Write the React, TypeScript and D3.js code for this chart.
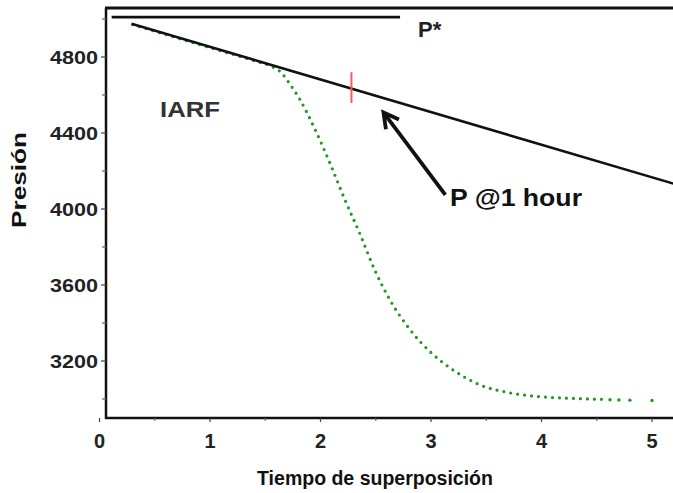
import React from "react";
import * as d3 from "d3";

const W = 673;
const H = 493;

// Axis ticks
const yMajor = [3200, 3600, 4000, 4400, 4800];
const yMinor = [3000, 3400, 3800, 4200, 4600, 5000];
const xMajor = [0, 1, 2, 3, 4, 5];
const xMinor = [0.5, 1.5, 2.5, 3.5, 4.5];

// Straight-line (IARF) extrapolation
const lineTime = [0.29, 5.25];
const linePressure = [4975, 4124];

// P* reference
const pStarTime = [0.11, 2.72];
const pStarPressure = [5010, 5010];

// Measured superposition data (green)
const dataTime = [0.3, 0.6, 0.9, 1.2, 1.4, 1.55, 1.65, 1.72, 1.81, 1.95, 2.09, 2.22, 2.36, 2.49, 2.63, 2.81, 2.99, 3.22, 3.44, 3.71, 3.99, 4.25, 4.55];
const dataPressure = [4970, 4918, 4866, 4815, 4780, 4752, 4715, 4660, 4580, 4420, 4235, 4050, 3865, 3680, 3520, 3365, 3250, 3145, 3075, 3033, 3012, 3004, 2998];
const tailTime = [4.62, 4.7, 4.8, 5.0];
const tailPressure = [2996, 2995, 2994, 2992];

// P @1 hour marker
const markTime = 2.28;
const markPressure = [4720, 4558];

// Arrow annotation (data coords)
const arrowFrom = [3.13, 4074];
const arrowTo = [2.57, 4508];

export default function App() {
  const x = d3.scaleLinear().domain([0, 5]).range([99.5, 652]);
  const y = d3.scaleLinear().domain([3200, 4800]).range([361, 57]);
  const left = 106;
  const top = 8;
  const bottom = 418;
  const right = W + 5;

  const lineGen = d3
    .line<[number, number]>()
    .x((d) => x(d[0]))
    .y((d) => y(d[1]));
  const curveGen = d3
    .line<[number, number]>()
    .x((d) => x(d[0]))
    .y((d) => y(d[1]))
    .curve(d3.curveMonotoneX);

  const straight = lineTime.map((t, i) => [t, linePressure[i]] as [number, number]);
  const pstar = pStarTime.map((t, i) => [t, pStarPressure[i]] as [number, number]);
  const green = dataTime.map((t, i) => [t, dataPressure[i]] as [number, number]);

  const font = "'Liberation Sans', Arial, sans-serif";

  const ax1 = x(arrowFrom[0]);
  const ay1 = y(arrowFrom[1]);
  const ax2 = x(arrowTo[0]);
  const ay2 = y(arrowTo[1]);
  const ang = Math.atan2(ay2 - ay1, ax2 - ax1);
  const headLen = 17;
  const headSpread = 0.5;
  const h1 = [ax2 - headLen * Math.cos(ang - headSpread), ay2 - headLen * Math.sin(ang - headSpread)];
  const h2 = [ax2 - headLen * Math.cos(ang + headSpread), ay2 - headLen * Math.sin(ang + headSpread)];

  return (
    <svg
      width={W}
      height={H}
      style={{ position: "absolute", left: 0, top: 0, background: "#fff" }}
      fontFamily={font}
    >
      <rect x={0} y={0} width={W} height={H} fill="#fff" />

      {/* green measured data */}
      <path
        d={curveGen(green) || ""}
        fill="none"
        stroke="#1f9a1f"
        strokeWidth={3.2}
        strokeLinecap="round"
        strokeDasharray="0 7"
      />
      {tailTime.map((t, i) => (
        <circle key={i} cx={x(t)} cy={y(tailPressure[i])} r={1.7} fill="#1f9a1f" />
      ))}

      {/* straight line */}
      <path d={lineGen(straight) || ""} fill="none" stroke="#111" strokeWidth={2.6} />
      {/* P* line */}
      <path d={lineGen(pstar) || ""} fill="none" stroke="#111" strokeWidth={2.6} />

      {/* red marker */}
      <line
        x1={x(markTime)}
        x2={x(markTime)}
        y1={y(markPressure[0])}
        y2={y(markPressure[1])}
        stroke="#f25c5c"
        strokeWidth={2}
      />

      {/* arrow */}
      <line x1={ax1} y1={ay1} x2={ax2 + 3 * Math.cos(ang + Math.PI)} y2={ay2 + 3 * Math.sin(ang + Math.PI)} stroke="#111" strokeWidth={3.8} />
      <polyline
        points={`${h1[0]},${h1[1]} ${ax2},${ay2} ${h2[0]},${h2[1]}`}
        fill="none"
        stroke="#111"
        strokeWidth={3.8}
        strokeLinejoin="miter"
      />

      {/* frame */}
      <line x1={left} x2={left} y1={top} y2={bottom + 1} stroke="#111" strokeWidth={2.5} />
      <line x1={left - 1} x2={right} y1={bottom} y2={bottom} stroke="#111" strokeWidth={2.5} />
      <line x1={left - 1} x2={right} y1={top} y2={top} stroke="#111" strokeWidth={3} />

      {/* y ticks */}
      {yMajor.map((v) => (
        <g key={v}>
          <line x1={left - 5} x2={left} y1={y(v)} y2={y(v)} stroke="#444" strokeWidth={1.2} />
          <text
            x={98}
            y={y(v) + 7}
            textAnchor="end"
            fontSize={19}
            fontWeight="bold"
            fill="#222"
            textLength={48}
            lengthAdjust="spacingAndGlyphs"
          >
            {v}
          </text>
        </g>
      ))}
      {yMinor.map((v) => (
        <line key={v} x1={left - 4} x2={left} y1={y(v)} y2={y(v)} stroke="#666" strokeWidth={1.2} />
      ))}

      {/* x ticks */}
      {xMajor.map((v) => (
        <g key={v}>
          <line x1={x(v)} x2={x(v)} y1={bottom} y2={bottom + 4} stroke="#444" strokeWidth={1.2} />
          <text x={x(v)} y={448} textAnchor="middle" fontSize={20} fontWeight="bold" fill="#222">
            {v}
          </text>
        </g>
      ))}
      {xMinor.map((v) => (
        <line key={v} x1={x(v)} x2={x(v)} y1={bottom} y2={bottom + 3} stroke="#666" strokeWidth={1.2} />
      ))}

      {/* axis titles */}
      <text x={375} y={485} textAnchor="middle" fontSize={19.5} fontWeight="bold" fill="#111">
        Tiempo de superposición
      </text>
      <text
        transform={`translate(26, 180) rotate(-90)`}
        textAnchor="middle"
        fontSize={20}
        fontWeight="bold"
        fill="#111"
        textLength={96}
        lengthAdjust="spacingAndGlyphs"
      >
        Presión
      </text>

      {/* annotations */}
      <text x={418} y={37} fontSize={22} fontWeight="bold" fill="#222">
        P*
      </text>
      <text
        x={160}
        y={117}
        fontSize={22}
        fontWeight="bold"
        fill="#333"
        textLength={60}
        lengthAdjust="spacingAndGlyphs"
      >
        IARF
      </text>
      <text
        x={450}
        y={206}
        fontSize={24}
        fontWeight="bold"
        fill="#111"
        textLength={132}
        lengthAdjust="spacingAndGlyphs"
      >
        P @1 hour
      </text>
    </svg>
  );
}
